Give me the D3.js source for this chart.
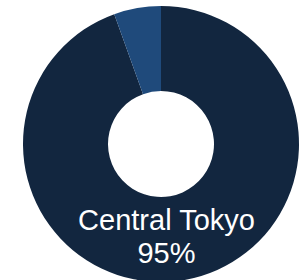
<!DOCTYPE html>
<html><head><meta charset="utf-8">
<script src="https://cdn.jsdelivr.net/npm/d3@7"></script>
<style>html,body{margin:0;padding:0;background:#fff;overflow:hidden}</style>
</head><body>
<svg id="c" width="307" height="280"></svg>
<script>
const categories = ["Central Tokyo", "Other"];
const values = [94.5, 5.5];
const colors = ["#12263f", "#1f4a7b"];

const svg = d3.select("#c");
const cx = 161, cy = 144, R = 138, r = 53;
const g = svg.append("g").attr("transform", `translate(${cx},${cy})`);
const pie = d3.pie().sort(null).value(d => d.v);
const data = pie(categories.map((c, i) => ({c, v: values[i], col: colors[i]})));
const arc = d3.arc().innerRadius(r).outerRadius(R);
g.selectAll("path").data(data).join("path")
  .attr("d", arc).attr("fill", d => d.data.col);

const main = data[0];
const t = g.append("text").attr("text-anchor", "middle")
  .attr("font-family", "Liberation Sans, Arial, sans-serif")
  .attr("font-size", 29).attr("fill", "#fff");
t.append("tspan").attr("x", 5.5).attr("y", 86).text(main.data.c);
t.append("tspan").attr("x", 5.5).attr("y", 119).text(Math.round(main.data.v) + "%");
</script>
</body></html>
